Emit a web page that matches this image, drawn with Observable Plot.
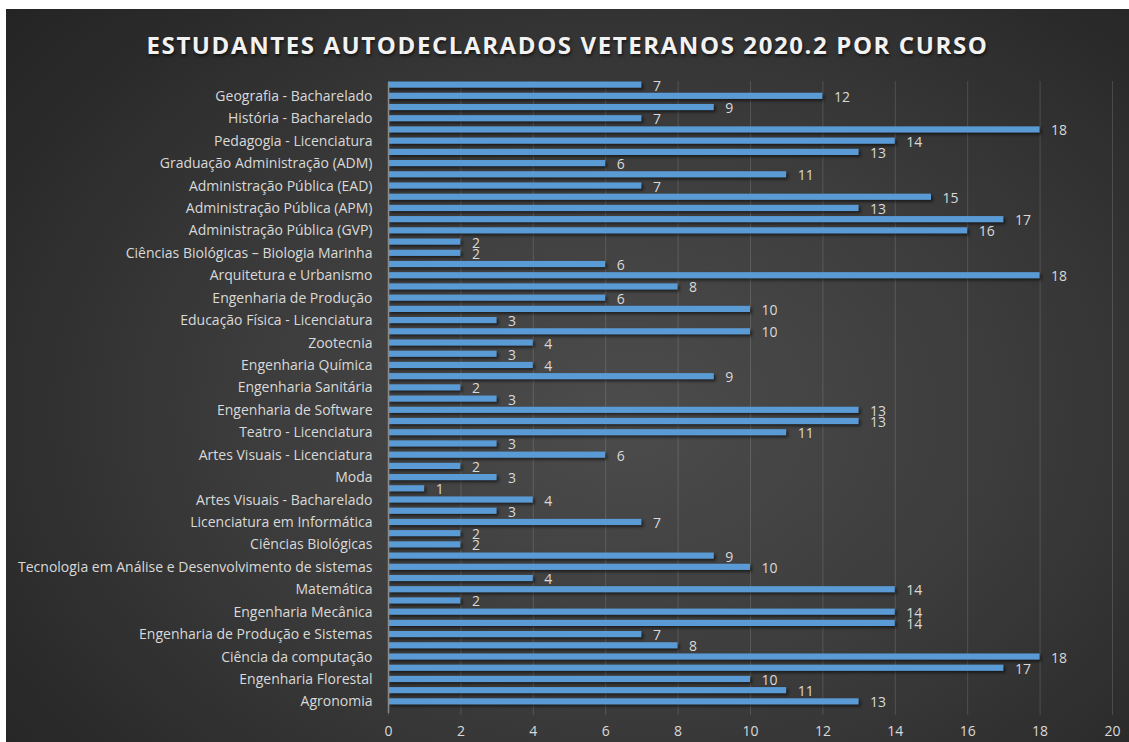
<!DOCTYPE html>
<html>
<head>
<meta charset="utf-8">
<script src="https://cdn.jsdelivr.net/npm/d3@7"></script>
<script src="https://cdn.jsdelivr.net/npm/@observablehq/plot@0.6"></script>
<style>
  html, body { margin: 0; padding: 0; background: #ffffff; }
  #frame {
    position: absolute; left: 6px; top: 9px; width: 1123px; height: 733px;
    background: radial-gradient(ellipse 75% 85% at 55% 55%, #4c4c4c 0%, #3c3c3c 45%, #2b2b2b 80%, #232323 100%);
    overflow: hidden;
  }
  #title {
    position: absolute; left: 0; top: 19px; width: 1123px; text-align: center;
    font-family: "Open Sans", sans-serif; font-weight: 700; font-size: 24px;
    letter-spacing: 1.6px; color: #f2f2f2;
    text-shadow: 1px 2px 3px rgba(0,0,0,0.6);
  }
  #chart { position: absolute; left: 0; top: 0; }
  .bars rect { filter: drop-shadow(2px 2px 1.5px rgba(0,0,0,0.55)); }
</style>
</head>
<body>
<div id="frame">
  <div id="chart"></div>
  <div id="title">ESTUDANTES AUTODECLARADOS VETERANOS 2020.2 POR CURSO</div>
</div>
<script>
// Values of the 56 bars, top to bottom
const values = [7, 12, 9, 7, 18, 14, 13, 6, 11, 7, 15, 13, 17, 16, 2, 2, 6, 18, 8, 6,
  10, 3, 10, 4, 3, 4, 9, 2, 3, 13, 13, 11, 3, 6, 2, 3, 1, 4, 3, 7,
  2, 2, 9, 10, 4, 14, 2, 14, 14, 7, 8, 18, 17, 10, 11, 13];

// Visible category labels (every second bar, top to bottom)
const courses = [
  "Geografia - Bacharelado",
  "História - Bacharelado",
  "Pedagogia - Licenciatura",
  "Graduação Administração (ADM)",
  "Administração Pública (EAD)",
  "Administração Pública (APM)",
  "Administração Pública (GVP)",
  "Ciências Biológicas – Biologia Marinha",
  "Arquitetura e Urbanismo",
  "Engenharia de Produção",
  "Educação Física - Licenciatura",
  "Zootecnia",
  "Engenharia Química",
  "Engenharia Sanitária",
  "Engenharia de Software",
  "Teatro - Licenciatura",
  "Artes Visuais - Licenciatura",
  "Moda",
  "Artes Visuais - Bacharelado",
  "Licenciatura em Informática",
  "Ciências Biológicas",
  "Tecnologia em Análise e Desenvolvimento de sistemas",
  "Matemática",
  "Engenharia Mecânica",
  "Engenharia de Produção e Sistemas",
  "Ciência da computação",
  "Engenharia Florestal",
  "Agronomia"
];

const xTicks = [0, 2, 4, 6, 8, 10, 12, 14, 16, 18, 20];

const rows = values.map((v, i) => ({i, v}));
const labelFor = i => (i % 2 === 1 ? courses[(i - 1) / 2] : "");

const chart = Plot.plot({
  width: 1123,
  height: 733,
  marginLeft: 382,
  marginRight: 17,
  marginTop: 70,
  marginBottom: 35,
  style: {background: "transparent", fontFamily: "'Open Sans', sans-serif", color: "#d9d9d9"},
  x: {domain: [0, 20], ticks: xTicks, label: null},
  y: {domain: d3.range(values.length), padding: 0, round: false, label: null},
  marks: [
    Plot.gridX(xTicks, {stroke: "#ffffff", strokeOpacity: 0.14, insetTop: 2, insetBottom: -8}),
    Plot.axisX({ticks: xTicks, tickSize: 0, tickPadding: 19, fontSize: 14, fill: "#d9d9d9"}),
    Plot.axisY({tickSize: 0, tickPadding: 16, fontSize: 14, fill: "#d9d9d9", tickFormat: labelFor}),
    Plot.barX(rows, {x: "v", y: "i", fill: "#5b9bd5", insetTop: 2.5, insetBottom: 2.5, className: "bars"}),
    Plot.ruleX([0], {stroke: "#8a8a8a", strokeWidth: 1.5, insetTop: 4, insetBottom: -6}),
    Plot.text(rows, {x: "v", y: "i", text: d => String(d.v), dx: 11, dy: 1, textAnchor: "start", fontSize: 14, fill: "#d9d9d9"})
  ]
});
document.getElementById("chart").appendChild(chart);
</script>
</body>
</html>
